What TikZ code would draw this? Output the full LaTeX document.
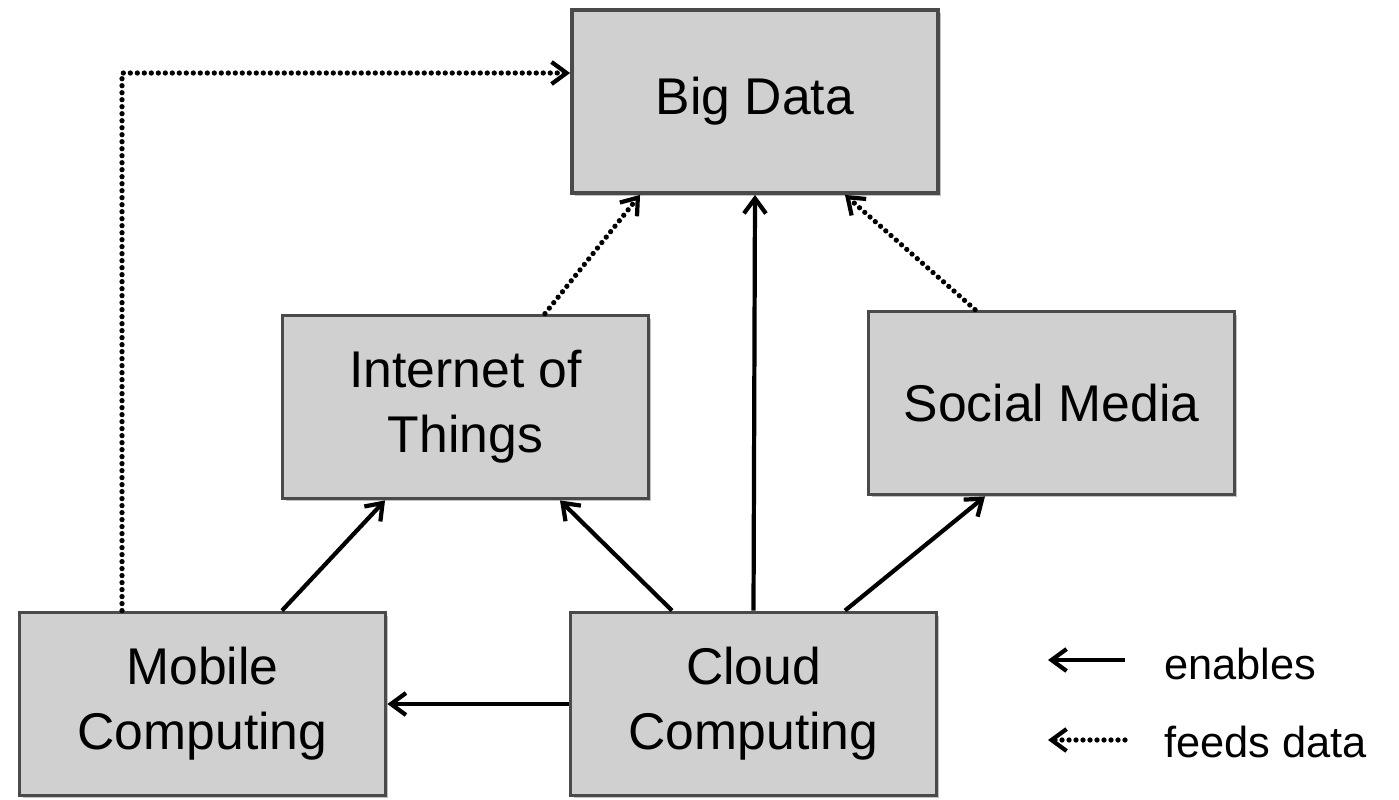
\documentclass[tikz,border=0pt]{standalone}
\usepackage{fontspec}
\setmainfont{Liberation Sans}
\usepackage{tikz}
\usepackage{xcolor}
\usetikzlibrary{arrows.meta, positioning, calc, shadows}

\definecolor{boxfill}{HTML}{D0D0D0}
\definecolor{boxline}{HTML}{4A4A4A}

\begin{document}
\begin{tikzpicture}[x=0.02cm, y=-0.02cm,
  block/.style={draw=boxline, fill=boxfill, line width=2.2pt, minimum width=7.32cm, minimum height=3.66cm,
    align=center, font=\fontsize{29.4}{37}\selectfont,
    drop shadow={shadow xshift=0.06cm, shadow yshift=-0.06cm, opacity=0.4, fill=black!60}},
  enables/.style={-{Straight Barb[length=0.3cm, width=0.44cm, line width=2.4pt]}, line width=2.4pt},
  feeds/.style={-{Straight Barb[length=0.3cm, width=0.44cm, line width=2.4pt]}, line width=3pt, line cap=round, dash pattern=on 0pt off 0.14cm},
  legendtext/.style={anchor=west, font=\fontsize{24.7}{30}\selectfont}]
\useasboundingbox (0,0) rectangle (1399,799);

% Boxes
\node[block] (bigdata) at (755,101.5) {Big Data};
\node[block] (iot) at (465.5,407) {Internet of\\Things};
\node[block] (social) at (1051.5,403) {Social Media};
\node[block] (mobile) at (202.5,704) {Mobile\\Computing};
\node[block] (cloud) at (753.5,704) {Cloud\\Computing};

% Data feeds (dotted)
\draw[feeds] ([xshift=-1.61cm]mobile.north) |- ([yshift=0.57cm]bigdata.west);
\draw[feeds] ([xshift=1.59cm]iot.north) -- ([xshift=-2.3cm]bigdata.south);
\draw[feeds] ([xshift=-1.53cm]social.north) -- ([xshift=1.8cm]bigdata.south);

% Enabling relations (solid)
\draw[enables] (cloud.north) -- (bigdata.south);
\draw[enables] ([xshift=1.59cm]mobile.north) -- ([xshift=-1.61cm]iot.south);
\draw[enables] ([xshift=-1.63cm]cloud.north) -- ([xshift=1.89cm]iot.south);
\draw[enables] ([xshift=1.83cm]cloud.north) -- ([xshift=-1.33cm]social.south);
\draw[enables] (cloud.west) -- (mobile.east);

% Legend
\coordinate (enA) at (1125,660);
\coordinate (enB) at (1048,660);
\coordinate (fdA) at (1125,740);
\coordinate (fdB) at (1048,740);
\draw[enables] (enA) -- (enB);
\draw[feeds] (fdA) -- (fdB);
\node[legendtext] (enlabel) at (1158,664) {enables};
\node[legendtext] (fdlabel) at (1158,742) {feeds data};
\end{tikzpicture}
\end{document}
